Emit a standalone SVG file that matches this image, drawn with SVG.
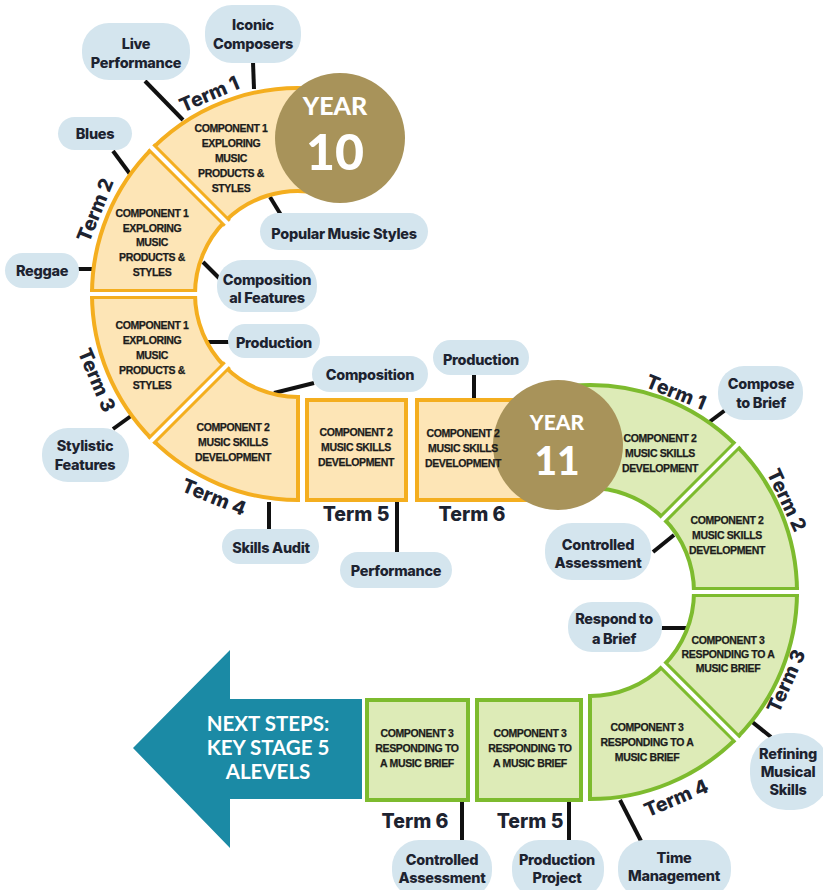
<svg xmlns="http://www.w3.org/2000/svg" width="823" height="890" viewBox="0 0 823 890">
<style>
.bub{fill:#D4E5EE}
.bt{font-family:Inter,"Open Sans","Liberation Sans",sans-serif;font-weight:800;font-size:14.5px;fill:#1d2330;text-anchor:middle;letter-spacing:-0.3px}
.con{stroke:#111;stroke-width:4;fill:none}
.ys{fill:#FDE5B6;stroke:#F4AE1F;stroke-width:4;stroke-linejoin:miter}
.gs{fill:#DDEBB7;stroke:#7DBB2E;stroke-width:4;stroke-linejoin:miter}
.ydiv{stroke:#F4AE1F;stroke-width:10}
.gdiv{stroke:#7DBB2E;stroke-width:10}
.wdiv{stroke:#fff;stroke-width:4}
.box{font-family:"Liberation Sans",Arial,sans-serif;font-weight:700;font-size:10.5px;fill:#1c1c1c;stroke:#1c1c1c;stroke-width:0.25;text-anchor:middle;letter-spacing:-0.35px}
.term{font-family:Inter,"Open Sans","Liberation Sans",sans-serif;font-weight:800;font-size:19.5px;fill:#1d2330;text-anchor:middle}
.yc{fill:#A8935A}
.yt{font-family:Lato,"Open Sans","Liberation Sans",sans-serif;font-weight:900;fill:#fff;text-anchor:middle}
.ns{font-family:Lato,"Open Sans","Liberation Sans",sans-serif;font-weight:700;font-size:20.5px;fill:#fff;text-anchor:middle}
</style>

<g id="connectors">
<line class="con" x1="253" y1="62" x2="254" y2="89"/>
<line class="con" x1="145" y1="81" x2="183" y2="120"/>
<line class="con" x1="113" y1="151" x2="130" y2="174"/>
<line class="con" x1="77" y1="269" x2="92" y2="269"/>
<line class="con" x1="203" y1="262" x2="220" y2="279"/>
<line class="con" x1="207" y1="342" x2="229" y2="342"/>
<line class="con" x1="274" y1="393" x2="314" y2="383"/>
<line class="con" x1="474" y1="375" x2="474" y2="398"/>
<line class="con" x1="270" y1="197" x2="281" y2="215"/>
<line class="con" x1="269" y1="502" x2="269" y2="529"/>
<line class="con" x1="397" y1="502" x2="397" y2="553"/>
<line class="con" x1="113" y1="429" x2="131" y2="416"/>
<line class="con" x1="708" y1="423" x2="728" y2="408"/>
<line class="con" x1="653" y1="552" x2="674" y2="535"/>
<line class="con" x1="661" y1="628" x2="686" y2="628"/>
<line class="con" x1="751" y1="721" x2="771" y2="737"/>
<line class="con" x1="620" y1="800" x2="641" y2="841"/>
<line class="con" x1="569" y1="802" x2="569" y2="841"/>
<line class="con" x1="462" y1="802" x2="462" y2="841"/>
</g>

<g id="arrow">
<polygon points="133,748 230,650 230,699 362,699 362,799 230,799 230,848" fill="#1B8AA5"/>
<text class="ns" x="268" y="731">NEXT STEPS:</text>
<text class="ns" x="268" y="755">KEY STAGE 5</text>
<text class="ns" x="268" y="779">ALEVELS</text>
</g>

<g id="y10-term1"><path class="ys" d="M333.77,91.13 A206,206 0 0 0 152.34,148.34 L225.17,221.17 A103,103 0 0 1 315.89,192.56 Z"/></g>
<g id="y10-term2"><path class="ys" d="M152.34,148.34 A206,206 0 0 0 92,294 L195,294 A103,103 0 0 1 225.17,221.17 Z"/></g>
<g id="y10-term3"><path class="ys" d="M92,294 A206,206 0 0 0 152.34,439.66 L225.17,366.83 A103,103 0 0 1 195,294 Z"/></g>
<g id="y10-term4"><path class="ys" d="M152.34,439.66 A206,206 0 0 0 298,500 L298,397 A103,103 0 0 1 225.17,366.83 Z"/></g>
<g id="y10-term5"><rect class="ys" x="307" y="400" width="99" height="100"/></g>
<g id="y10-term6"><rect class="ys" x="417" y="400" width="125" height="100"/></g>

<g id="y11-term1"><path class="gs" d="M571.96,385.79 A207,207 0 0 1 736.37,445.63 L663.54,518.46 A104,104 0 0 0 580.94,488.4 Z"/></g>
<g id="y11-term2"><path class="gs" d="M736.37,445.63 A207,207 0 0 1 797,592 L694,592 A104,104 0 0 0 663.54,518.46 Z"/></g>
<g id="y11-term3"><path class="gs" d="M797,592 A207,207 0 0 1 736.37,738.37 L663.54,665.54 A104,104 0 0 0 694,592 Z"/></g>
<g id="y11-term4"><path class="gs" d="M736.37,738.37 A207,207 0 0 1 590,799 L590,696 A104,104 0 0 0 663.54,665.54 Z"/></g>
<g id="y11-term5"><rect class="gs" x="477" y="700" width="104" height="100"/></g>
<g id="y11-term6"><rect class="gs" x="367" y="700" width="101" height="100"/></g>

<g id="dividers">
<line class="ydiv" x1="227.3" y1="223.3" x2="150.9" y2="146.9"/>
<line class="wdiv" x1="228" y1="224" x2="150" y2="146"/>
<line class="ydiv" x1="197" y1="294" x2="90" y2="294"/>
<line class="wdiv" x1="198" y1="294" x2="89" y2="294"/>
<line class="ydiv" x1="227.3" y1="364.7" x2="150.9" y2="441.1"/>
<line class="wdiv" x1="228" y1="364" x2="150" y2="442"/>
<line class="gdiv" x1="662.1" y1="519.9" x2="737.8" y2="444.2"/>
<line class="wdiv" x1="661.4" y1="520.6" x2="738.5" y2="443.5"/>
<line class="gdiv" x1="692" y1="592" x2="799" y2="592"/>
<line class="wdiv" x1="691" y1="592" x2="800" y2="592"/>
<line class="gdiv" x1="662.1" y1="664.1" x2="737.8" y2="739.8"/>
<line class="wdiv" x1="661.4" y1="663.4" x2="738.5" y2="740.5"/>
</g>

<g id="year10">
<circle class="yc" cx="340" cy="138" r="65"/>
<text class="yt" x="335" y="115" font-size="25">YEAR</text>
<text class="yt" x="335" y="170" font-size="50">10</text>
</g>
<g id="year11">
<circle class="yc" cx="558" cy="445" r="65"/>
<text class="yt" x="557" y="430" font-size="21">YEAR</text>
<text class="yt" x="557" y="475" font-size="39">11</text>
</g>

<g id="box-texts">
<text class="box"><tspan x="231" y="132">COMPONENT 1</tspan><tspan x="231" y="147">EXPLORING</tspan><tspan x="231" y="162">MUSIC</tspan><tspan x="231" y="177">PRODUCTS &amp;</tspan><tspan x="231" y="192">STYLES</tspan></text>
<text class="box"><tspan x="152" y="217">COMPONENT 1</tspan><tspan x="152" y="232">EXPLORING</tspan><tspan x="152" y="246">MUSIC</tspan><tspan x="152" y="261">PRODUCTS &amp;</tspan><tspan x="152" y="276">STYLES</tspan></text>
<text class="box"><tspan x="152" y="329">COMPONENT 1</tspan><tspan x="152" y="344">EXPLORING</tspan><tspan x="152" y="359">MUSIC</tspan><tspan x="152" y="374">PRODUCTS &amp;</tspan><tspan x="152" y="389">STYLES</tspan></text>
<text class="box"><tspan x="233" y="431">COMPONENT 2</tspan><tspan x="233" y="446">MUSIC SKILLS</tspan><tspan x="233" y="461">DEVELOPMENT</tspan></text>
<text class="box"><tspan x="356" y="436">COMPONENT 2</tspan><tspan x="356" y="451">MUSIC SKILLS</tspan><tspan x="356" y="466">DEVELOPMENT</tspan></text>
<text class="box"><tspan x="463" y="437">COMPONENT 2</tspan><tspan x="463" y="452">MUSIC SKILLS</tspan><tspan x="463" y="467">DEVELOPMENT</tspan></text>
<text class="box"><tspan x="660" y="442">COMPONENT 2</tspan><tspan x="660" y="457">MUSIC SKILLS</tspan><tspan x="660" y="472">DEVELOPMENT</tspan></text>
<text class="box"><tspan x="727" y="524">COMPONENT 2</tspan><tspan x="727" y="539">MUSIC SKILLS</tspan><tspan x="727" y="554">DEVELOPMENT</tspan></text>
<text class="box"><tspan x="728" y="644">COMPONENT 3</tspan><tspan x="728" y="658">RESPONDING TO A</tspan><tspan x="728" y="672">MUSIC BRIEF</tspan></text>
<text class="box"><tspan x="647" y="731">COMPONENT 3</tspan><tspan x="647" y="746">RESPONDING TO A</tspan><tspan x="647" y="761">MUSIC BRIEF</tspan></text>
<text class="box"><tspan x="530" y="737">COMPONENT 3</tspan><tspan x="530" y="752">RESPONDING TO</tspan><tspan x="530" y="767">A MUSIC BRIEF</tspan></text>
<text class="box"><tspan x="417" y="737">COMPONENT 3</tspan><tspan x="417" y="752">RESPONDING TO</tspan><tspan x="417" y="767">A MUSIC BRIEF</tspan></text>
</g>

<g id="term-labels">
<text class="term" transform="translate(209,94) rotate(-23)" y="7">Term 1</text>
<text class="term" transform="translate(95,210) rotate(-68)" y="7">Term 2</text>
<text class="term" transform="translate(97,380) rotate(67)" y="7">Term 3</text>
<text class="term" transform="translate(214,497) rotate(22)" y="7">Term 4</text>
<text class="term" x="356" y="521">Term 5</text>
<text class="term" x="472" y="521">Term 6</text>
<text class="term" transform="translate(676,392) rotate(22)" y="7">Term 1</text>
<text class="term" transform="translate(787,500) rotate(65)" y="7">Term 2</text>
<text class="term" transform="translate(786,681) rotate(-66)" y="7">Term 3</text>
<text class="term" transform="translate(676,798) rotate(-23)" y="7">Term 4</text>
<text class="term" x="530" y="828">Term 5</text>
<text class="term" x="415" y="828">Term 6</text>
</g>

<g id="b-iconic"><rect class="bub" x="205" y="5" width="96" height="58" rx="27"/><text class="bt"><tspan x="253" y="30">Iconic</tspan><tspan x="253" y="49">Composers</tspan></text></g>
<g id="b-live"><rect class="bub" x="82" y="23" width="108" height="57" rx="27"/><text class="bt"><tspan x="136" y="49">Live</tspan><tspan x="136" y="68">Performance</tspan></text></g>
<g id="b-blues"><rect class="bub" x="58" y="117" width="74" height="33" rx="16.5"/><text class="bt" x="95" y="139">Blues</text></g>
<g id="b-reggae"><rect class="bub" x="5" y="253" width="74" height="35" rx="17.5"/><text class="bt" x="42" y="276">Reggae</text></g>
<g id="b-compfeat"><rect class="bub" x="217" y="260" width="100" height="52" rx="25"/><text class="bt"><tspan x="267" y="285">Composition</tspan><tspan x="267" y="303">al Features</tspan></text></g>
<g id="b-prod1"><rect class="bub" x="228" y="324" width="92" height="34" rx="17"/><text class="bt" x="274" y="348">Production</text></g>
<g id="b-comp"><rect class="bub" x="312" y="356" width="116" height="36" rx="18"/><text class="bt" x="370" y="380">Composition</text></g>
<g id="b-prod2"><rect class="bub" x="433" y="340" width="96" height="35" rx="17.5"/><text class="bt" x="481" y="365">Production</text></g>
<g id="b-popular"><rect class="bub" x="260" y="213" width="168" height="37" rx="18.5"/><text class="bt" x="344" y="239">Popular Music Styles</text></g>
<g id="b-skills"><rect class="bub" x="222" y="529" width="97" height="35" rx="17.5"/><text class="bt" x="271" y="553">Skills Audit</text></g>
<g id="b-perf"><rect class="bub" x="340" y="552" width="112" height="36" rx="18"/><text class="bt" x="396" y="576">Performance</text></g>
<g id="b-stylistic"><rect class="bub" x="42" y="428" width="87" height="54" rx="26"/><text class="bt"><tspan x="85" y="451">Stylistic</tspan><tspan x="85" y="470">Features</tspan></text></g>
<g id="b-compose"><rect class="bub" x="718" y="366" width="85" height="54" rx="26"/><text class="bt"><tspan x="761" y="389">Compose</tspan><tspan x="761" y="408">to Brief</tspan></text></g>
<g id="b-ctrl1"><rect class="bub" x="545" y="523" width="106" height="57" rx="27"/><text class="bt"><tspan x="598" y="550">Controlled</tspan><tspan x="598" y="568">Assessment</tspan></text></g>
<g id="b-respond"><rect class="bub" x="568" y="602" width="94" height="50" rx="24"/><text class="bt"><tspan x="614" y="624">Respond to</tspan><tspan x="614" y="644">a Brief</tspan></text></g>
<g id="b-refining"><rect class="bub" x="750" y="733" width="80" height="77" rx="36"/><text class="bt"><tspan x="788" y="759">Refining</tspan><tspan x="788" y="777">Musical</tspan><tspan x="788" y="795">Skills</tspan></text></g>
<g id="b-time"><rect class="bub" x="618" y="840" width="113" height="58" rx="27"/><text class="bt"><tspan x="674" y="863">Time</tspan><tspan x="674" y="881">Management</tspan></text></g>
<g id="b-prodproj"><rect class="bub" x="512" y="840" width="92" height="58" rx="27"/><text class="bt"><tspan x="557" y="865">Production</tspan><tspan x="557" y="883">Project</tspan></text></g>
<g id="b-ctrl2"><rect class="bub" x="392" y="840" width="100" height="58" rx="27"/><text class="bt"><tspan x="442" y="865">Controlled</tspan><tspan x="442" y="883">Assessment</tspan></text></g>
</svg>
